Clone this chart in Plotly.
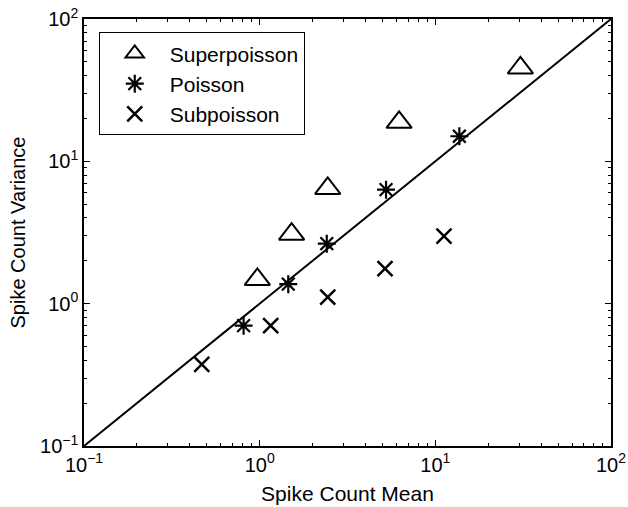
import plotly.graph_objects as go

# Data
super_mean = [0.97, 1.52, 2.44, 6.22, 30.5]
super_var = [1.48, 3.08, 6.45, 18.8, 45.3]

poisson_mean = [0.81, 1.455, 2.41, 5.24, 13.7]
poisson_var = [0.70, 1.37, 2.64, 6.32, 15.0]

sub_mean = [0.468, 1.155, 2.44, 5.17, 11.2]
sub_var = [0.375, 0.70, 1.11, 1.76, 2.98]

unity = [0.1, 100]

tick_vals = [0.1, 1, 10, 100]
tick_text = ["10<sup>−1</sup>", "10<sup>0</sup>", "10<sup>1</sup>", "10<sup>2</sup>"]
minor_vals = [m * d for d in (0.1, 1, 10) for m in range(2, 10)]

FONT = "Liberation Sans, Arial, Helvetica, sans-serif"

fig = go.Figure()
fig.add_trace(go.Scatter(x=unity, y=unity, mode="lines",
                         line=dict(color="black", width=2), showlegend=False,
                         hoverinfo="skip"))
fig.add_trace(go.Scatter(x=super_mean, y=super_var, mode="markers", name="Superpoisson",
                         marker=dict(symbol="triangle-up-open", size=22, color="black",
                                     line=dict(width=2, color="black"))))
fig.add_trace(go.Scatter(x=poisson_mean, y=poisson_var, mode="markers", name="Poisson",
                         marker=dict(symbol="asterisk-open", size=15, color="black",
                                     line=dict(width=2.2, color="black"))))
fig.add_trace(go.Scatter(x=sub_mean, y=sub_var, mode="markers", name="Subpoisson",
                         marker=dict(symbol="x-thin-open", size=15, color="black",
                                     line=dict(width=2.5, color="black"))))

axis_common = dict(
    type="log",
    range=[-1, 2],
    automargin=False,
    tickmode="array",
    tickvals=tick_vals,
    ticktext=tick_text,
    ticks="inside",
    ticklen=6,
    tickwidth=1,
    tickcolor="black",
    showline=True,
    linecolor="black",
    linewidth=1.5,
    mirror="allticks",
    showgrid=False,
    zeroline=False,
    tickfont=dict(family=FONT, size=20, color="black"),
    minor=dict(tickmode="array", tickvals=minor_vals, ticks="inside", ticklen=3,
               tickwidth=1, tickcolor="black", showgrid=False),
)

fig.update_xaxes(**axis_common,
                 title=dict(text="Spike Count Mean", font=dict(family=FONT, size=21, color="black"),
                            standoff=12))
fig.update_yaxes(**axis_common,
                 title=dict(text="Spike Count Variance", font=dict(family=FONT, size=20, color="black"),
                            standoff=9))

fig.update_layout(
    width=628, height=507,
    margin=dict(l=84, r=17, t=19, b=61),
    paper_bgcolor="white",
    plot_bgcolor="white",
    font=dict(family=FONT, color="black"),
    legend=dict(x=0.028, y=0.969, xanchor="left", yanchor="top",
                bordercolor="black", borderwidth=1, bgcolor="white",
                font=dict(family=FONT, size=21, color="black"),
                itemwidth=60, tracegroupgap=0),
)

fig.write_html("out.html")
